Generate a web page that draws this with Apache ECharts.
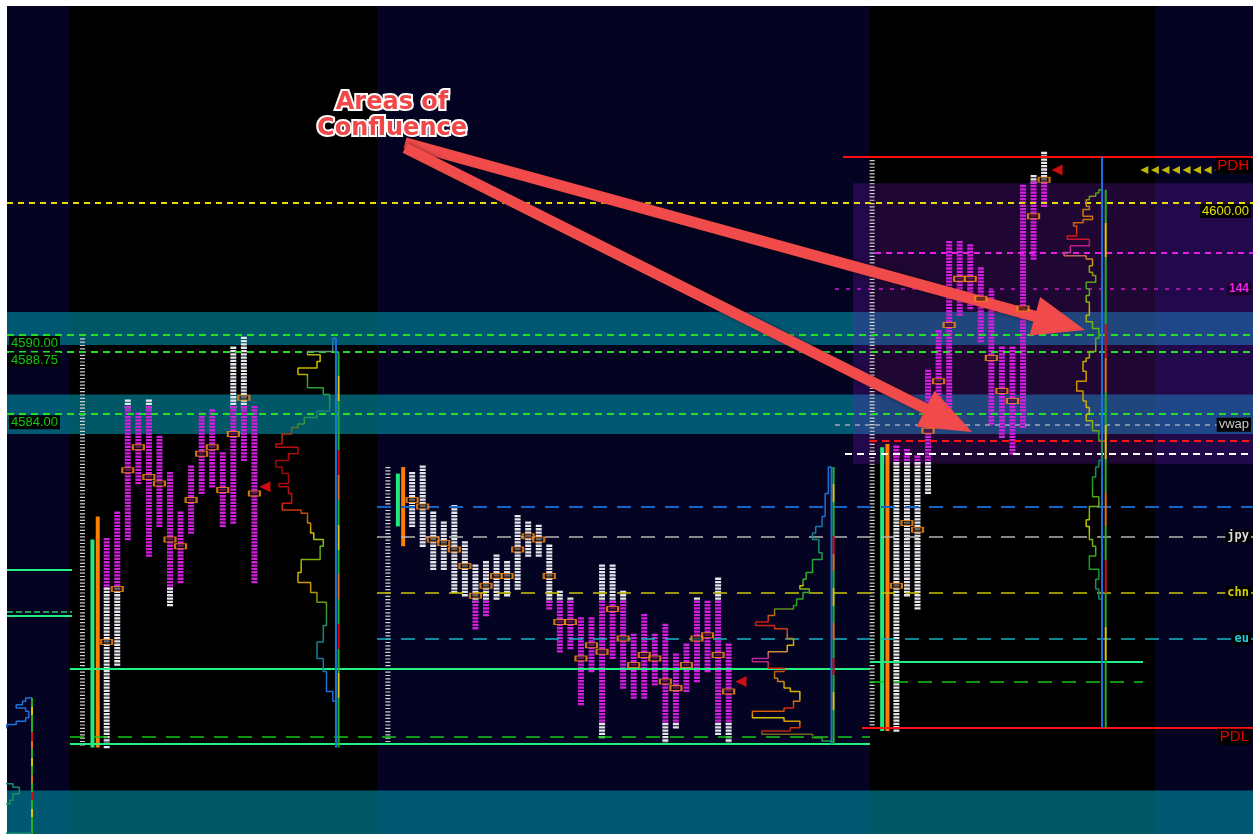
<!DOCTYPE html>
<html>
<head>
<meta charset="utf-8">
<title>Market profile - areas of confluence</title>
<script src="https://cdn.jsdelivr.net/npm/echarts/dist/echarts.min.js"></script>
<style>
  html, body { margin: 0; padding: 0; background: #fff; }
  #chart { width: 1253px; height: 834px; }
</style>
</head>
<body>
<div id="chart"></div>
<script>
// x unit = one 30 min period, y = price
const xMax = 118.1;
const priceMin = 4552.2;
const priceMax = 4614.92;

const sessionStart = [9.45, 38.4, 84.3];
const rthSpans = [[5.97, 35.07], [81.8, 108.82]];
const vaHigh = [4584.5, 4569.75, 4601.5];
const vaLow = [4570.75, 4560.5, 4580.25];

// TPO columns per session (high, low, poc)
const s1High = [4574.5, 4576.5, 4585.0, 4584.0, 4585.0, 4582.25, 4579.5, 4576.5, 4580.0, 4584.0, 4584.25, 4581.0, 4589.0, 4589.75, 4584.5];
const s1Low = [4558.75, 4565.0, 4574.5, 4578.75, 4573.25, 4575.5, 4569.5, 4571.25, 4575.0, 4578.0, 4578.5, 4575.5, 4575.75, 4580.5, 4571.25];
const s1Poc = [4566.75, 4570.75, 4579.75, 4581.5, 4579.25, 4578.75, 4574.5, 4574.0, 4577.5, 4581.0, 4581.5, 4578.25, 4582.5, 4585.25, 4578.0];

const s2High = [4579.5, 4580.0, 4576.5, 4575.75, 4577.0, 4574.25, 4572.5, 4572.75, 4573.25, 4572.75, 4576.25, 4575.75, 4575.5, 4574.0, 4570.5, 4570.0, 4568.5, 4568.5, 4572.5, 4572.5, 4570.5, 4567.25, 4568.75, 4567.25, 4568.0, 4565.75, 4566.5, 4570.0, 4569.75, 4571.5, 4566.5];
const s2Low = [4575.5, 4574.0, 4572.25, 4572.25, 4570.5, 4570.25, 4567.75, 4568.75, 4570.0, 4570.25, 4570.75, 4573.25, 4573.25, 4569.25, 4566.0, 4566.25, 4562.0, 4564.5, 4559.5, 4565.5, 4563.25, 4562.5, 4562.5, 4563.5, 4559.0, 4560.25, 4563.0, 4563.75, 4564.5, 4559.75, 4559.0];
const s2Poc = [4577.5, 4577.0, 4574.5, 4574.25, 4573.75, 4572.5, 4570.25, 4571.0, 4571.75, 4571.75, 4573.75, 4574.75, 4574.5, 4571.75, 4568.25, 4568.25, 4565.5, 4566.5, 4566.0, 4569.25, 4567.0, 4565.0, 4565.75, 4565.5, 4563.75, 4563.25, 4565.0, 4567.0, 4567.25, 4565.75, 4563.0];

const s3High = [4581.5, 4581.25, 4580.75, 4587.25, 4590.25, 4597.0, 4597.0, 4596.75, 4595.0, 4593.25, 4589.0, 4589.0, 4601.25, 4602.0, 4603.75];
const s3Low = [4560.0, 4570.25, 4569.25, 4578.0, 4584.25, 4584.25, 4591.5, 4592.0, 4589.5, 4583.25, 4582.25, 4581.0, 4583.0, 4595.75, 4599.75];
const s3Poc = [4571.0, 4575.75, 4575.25, 4582.75, 4586.5, 4590.75, 4594.25, 4594.25, 4592.75, 4588.25, 4585.75, 4585.0, 4592.0, 4599.0, 4601.75];

// price ladders, initial balance bars
const ladderHigh = [4589.75, 4580.0, 4603.5];
const ladderLow = [4558.75, 4559.0, 4560.0];
const ibGreenHigh = [4574.5, 4579.5, 4581.5];
const ibGreenLow = [4558.75, 4575.5, 4560.0];
const ibOrangeHigh = [4576.25, 4580.0, 4581.75];
const ibOrangeLow = [4558.75, 4574.0, 4560.0];

// profiles: price edges (top to bottom) and counts between them
const profileBase = [31.18, 78.15, 103.79, 2.37];
const profileTop = [4589.75, 4580.0, 4603.5];
const profileBottom = [4558.75, 4559.0, 4560.25];
const s1ProfEdges = [4589.75, 4588.75, 4588.5, 4588.0, 4587.5, 4587.0, 4586.0, 4585.5, 4584.25, 4583.75, 4583.25, 4583.0, 4582.5, 4581.75, 4581.5, 4581.0, 4580.5, 4580.0, 4579.5, 4578.75, 4578.5, 4578.0, 4577.25, 4576.75, 4576.5, 4575.75, 4575.0, 4574.5, 4574.0, 4573.0, 4572.0, 4571.25, 4570.5, 4569.75, 4568.0, 4566.75, 4565.5, 4564.5, 4563.25, 4563.0, 4562.25, 4558.75];
const s1ProfCounts = [1, 9, 5, 6, 12, 9, 4, 2, 6, 10, 12, 14, 17, 19, 12, 15, 19, 17, 15, 18, 15, 14, 17, 11, 9, 8, 7, 4, 5, 11, 12, 8, 6, 3, 4, 6, 4, 3, 3, 1, 0];
const s2ProfEdges = [4580.0, 4578.0, 4577.0, 4576.25, 4575.5, 4575.0, 4574.5, 4573.5, 4573.0, 4572.0, 4571.5, 4571.0, 4570.75, 4570.5, 4570.0, 4569.5, 4569.25, 4568.75, 4568.25, 4568.0, 4567.75, 4567.0, 4566.5, 4566.0, 4565.5, 4565.25, 4564.75, 4564.5, 4564.0, 4563.75, 4563.25, 4563.0, 4562.25, 4561.75, 4561.5, 4561.0, 4560.75, 4560.25, 4560.0, 4559.75, 4559.5, 4559.25, 4559.0];
const s2ProfCounts = [1, 2, 2, 3, 5, 6, 4, 3, 6, 8, 9, 10, 7, 9, 11, 12, 18, 20, 24, 18, 14, 12, 14, 20, 25, 20, 15, 18, 17, 15, 13, 10, 12, 15, 25, 15, 10, 13, 22, 6, 3, 0];
const s3ProfEdges = [4601.0, 4600.75, 4600.5, 4600.25, 4599.75, 4599.5, 4599.0, 4598.75, 4598.5, 4598.25, 4597.5, 4597.25, 4596.75, 4596.25, 4596.0, 4595.75, 4595.25, 4594.75, 4594.5, 4594.0, 4593.5, 4593.0, 4592.5, 4592.0, 4591.5, 4591.0, 4590.5, 4590.25, 4589.75, 4589.0, 4588.75, 4588.25, 4588.0, 4587.25, 4586.5, 4585.75, 4585.0, 4584.5, 4584.0, 4583.5, 4582.75, 4582.0, 4580.5, 4580.0, 4579.25, 4578.25, 4577.75, 4577.0, 4576.0, 4575.5, 4574.5, 4574.0, 4573.25, 4572.25, 4571.5, 4570.75, 4570.0];
const s3ProfCounts = [1, 2, 4, 5, 4, 6, 3, 6, 9, 8, 11, 4, 10, 12, 5, 3, 4, 3, 2, 5, 4, 5, 4, 4, 5, 3, 1, 1, 2, 2, 4, 5, 6, 5, 8, 6, 5, 4, 5, 3, 1, 0, 1, 2, 3, 3, 1, 4, 5, 4, 3, 2, 4, 1, 2, 1];
const compProfEdges = [4562.5, 4562.25, 4562.0, 4561.75, 4561.5, 4561.0, 4560.75, 4560.5, 4560.25, 4556.0, 4555.75, 4555.25, 4554.75, 4554.5, 4552.25];
const compProfCounts = [2, 3, 5, 2, 1, 2, 5, 8, 12, 6, 4, 6, 7, 12];

// horizontal reference levels
const levelNames = ['PDH', '4600.00', 'vah', '144', '4590.00', '4588.75', '4584.00', 'vwap', 'red', 'white', 'blue', 'jpy', 'chn', 'eu', 'ibLow', 'ibLow3', 'ibLow3d', 'lowd', 'low', 'PDL', 'ovn1', 'ovn2', 'ovn3'];
const levelPrices = [4603.5, 4600, 4596.25, 4593.5, 4590, 4588.75, 4584, 4583.2, 4582, 4581, 4577, 4574.75, 4570.5, 4567, 4564.75, 4565.25, 4563.75, 4559.6, 4559, 4560.25, 4572.25, 4569, 4568.75];
const levelFrom = [79.24, 0, 82.27, 78.48, 0, 0, 0, 78.48, 81.8, 79.43, 35.07, 35.07, 35.07, 35.07, 5.97, 81.8, 81.8, 5.97, 5.97, 81.04, 0, 0, 0];
const levelTo = [118.1, 118.1, 118.1, 118.1, 118.1, 118.1, 118.1, 118.1, 118.1, 118.1, 118.1, 118.1, 118.1, 118.1, 81.8, 107.68, 107.68, 81.8, 81.8, 118.1, 6.16, 6.16, 6.16];

const tealBands = [[4589.25, 4591.75], [4582.5, 4585.5], [priceMin, 4555.5]];
const valueBox = [[80.19, 4580.25], [xMax, 4601.5]];

const lastMarks = [[24.45, 4578.5], [69.57, 4563.75], [99.53, 4602.5]];
const futureMarks = [107.8, 108.8, 109.8, 110.8, 111.8, 112.8, 113.8, 114.8, 115.8, 116.8];
const futurePrice = 4602.5;

const arrowFrom = [[37.73, 4604.55], [37.73, 4604.17]];
const arrowTo = [[99.8, 4590.9], [89.27, 4583.53]];

// ---- styles ----
const NAVY = '#040422';
const MAGENTA = '#d41ee0';
const WHITE = '#e6e6ee';
const profUnit = 0.3;

const levelStyle = {
  'PDH': { color: '#ff1010', width: 2, type: 'solid', label: { color: '#e80000', fontSize: 15, pos: 'insideEndBottom' } },
  '4600.00': { color: '#e8dc00', width: 2, type: [6, 5], label: { color: '#e8e000', fontSize: 13, pos: 'insideEndBottom' } },
  'vah': { color: '#e81ee8', width: 2, type: [6, 5] },
  '144': { color: '#c81ed0', width: 1.5, type: [4, 7], label: { color: '#f020f0', fontSize: 12, bold: true, pos: 'insideEnd', bg: '#1a0428' } },
  '4590.00': { color: '#22e022', width: 2, type: [7, 5], label: { color: '#10c810', fontSize: 13, pos: 'insideStartBottom' } },
  '4588.75': { color: '#22e022', width: 2, type: [7, 5], label: { color: '#10c810', fontSize: 13, pos: 'insideStartBottom' } },
  '4584.00': { color: '#22e022', width: 2, type: [7, 5], label: { color: '#10c810', fontSize: 13, pos: 'insideStartBottom' } },
  'vwap': { color: '#8090a8', width: 2, type: [5, 5], label: { color: '#c8c8c8', fontSize: 13, pos: 'insideEnd' } },
  'red': { color: '#ff1414', width: 2, type: [7, 5] },
  'white': { color: '#ffffff', width: 2, type: [7, 5] },
  'blue': { color: '#1464c8', width: 2, type: [14, 10] },
  'jpy': { color: '#b4b4b4', width: 1.5, type: [14, 10], label: { color: '#dcdcdc', fontSize: 12, bold: true, mono: true, pos: 'insideEnd' } },
  'chn': { color: '#c8c400', width: 1.5, type: [14, 10], label: { color: '#d4d000', fontSize: 12, bold: true, mono: true, pos: 'insideEnd' } },
  'eu': { color: '#14b4c4', width: 1.5, type: [14, 10], label: { color: '#20d0dc', fontSize: 12, bold: true, mono: true, pos: 'insideEnd' } },
  'ibLow': { color: '#22f080', width: 2, type: 'solid' },
  'ibLow3': { color: '#22f080', width: 2, type: 'solid' },
  'ibLow3d': { color: '#14c814', width: 1.5, type: [14, 10] },
  'lowd': { color: '#14c814', width: 1.5, type: [14, 10] },
  'low': { color: '#22f080', width: 2, type: 'solid' },
  'PDL': { color: '#ff1010', width: 2, type: 'solid', label: { color: '#e80000', fontSize: 15, pos: 'insideEndBottom' } },
  'ovn1': { color: '#22f080', width: 2, type: 'solid' },
  'ovn2': { color: '#22d860', width: 1.5, type: [6, 3] },
  'ovn3': { color: '#22f080', width: 2, type: 'solid' }
};

const grad = (stops) => new echarts.graphic.LinearGradient(0, 0, 0, 1, stops.map(([o, c]) => ({ offset: o, color: c })));
const profColors = [
  [[0, '#1a6fd8'], [0.03, '#2080c0'], [0.05, '#d0c000'], [0.09, '#c8b000'], [0.11, '#30a020'], [0.15, '#20a040'], [0.18, '#108080'], [0.21, '#30a030'], [0.235, '#a04010'], [0.26, '#c01010'], [0.33, '#900808'], [0.40, '#d01010'], [0.44, '#c06010'], [0.48, '#d8c800'], [0.52, '#40a820'], [0.56, '#c8b800'], [0.61, '#d09000'], [0.65, '#50a020'], [0.72, '#108878'], [0.85, '#1a6fd8'], [1, '#1a6fd8']],
  [[0, '#1a6fd8'], [0.2, '#1a70c8'], [0.27, '#108878'], [0.33, '#20a040'], [0.42, '#30b020'], [0.43, '#d8c800'], [0.45, '#30b020'], [0.5, '#20a020'], [0.53, '#c07010'], [0.56, '#d01010'], [0.6, '#c06010'], [0.65, '#d8c000'], [0.69, '#b020b0'], [0.72, '#d03010'], [0.76, '#c08010'], [0.82, '#d8c800'], [0.86, '#d02010'], [0.9, '#d8c800'], [0.94, '#d01010'], [0.97, '#20b020'], [1, '#1a6fd8']],
  [[0, '#20b020'], [0.04, '#c08010'], [0.08, '#d07010'], [0.12, '#d01010'], [0.15, '#c020c0'], [0.18, '#c8a000'], [0.24, '#40a020'], [0.3, '#c8b800'], [0.36, '#30b020'], [0.42, '#c8b000'], [0.48, '#d09000'], [0.55, '#c8c000'], [0.6, '#40a020'], [0.66, '#108870'], [0.72, '#20a020'], [0.82, '#c8c000'], [0.9, '#20a020'], [1, '#108870']],
  [[0, '#1a6fd8'], [0.4, '#1a6fd8'], [0.6, '#108878'], [0.85, '#20a040'], [1, '#108878']]
];
const stripeColors = ['#20b020', '#d8c800', '#20b020', '#20b020', '#d01010', '#e07010', '#20b020', '#d8c800', '#20b020', '#e07010', '#20b020', '#d01010', '#20b020', '#d8c800', '#20b020', '#20b020'];

function stripes(colors) {
  const out = [];
  colors.forEach((c, i) => {
    out.push({ offset: i / colors.length, color: c }, { offset: (i + 1) / colors.length, color: c });
  });
  return out;
}

// vertical segments [x, low, high]
function segSeries(items, st, z) {
  return {
    type: 'custom', silent: true, z: z, clip: true,
    data: items,
    encode: { x: 0, y: [1, 2] },
    renderItem(params, api) {
      const a = api.coord([api.value(0), api.value(2)]);
      const b = api.coord([api.value(0), api.value(1)]);
      let stroke = st.color;
      if (st.stripes) stroke = new echarts.graphic.LinearGradient(0, a[1], 0, b[1], stripes(st.stripes), true);
      return {
        type: 'line',
        shape: { x1: a[0], y1: a[1] - (st.pad || 0), x2: b[0], y2: b[1] + (st.pad || 0) },
        style: { stroke: stroke, lineWidth: st.width, lineDash: st.dash || null }
      };
    }
  };
}

function tpoSeries(k, hi, lo) {
  const data = hi.map((h, i) => [sessionStart[k] + i, lo[i], h, vaLow[k], vaHigh[k]]);
  return {
    type: 'custom', silent: true, z: 3, clip: true,
    data: data,
    encode: { x: 0, y: [1, 2] },
    renderItem(params, api) {
      const x = api.value(0), l = api.value(1), h = api.value(2), vl = api.value(3), vh = api.value(4);
      const parts = [];
      const add = (a, b, color) => {
        if (b <= a) return;
        const p1 = api.coord([x, b]), p2 = api.coord([x, a]);
        parts.push({
          type: 'line',
          shape: { x1: p1[0], y1: p1[1] - 1.6, x2: p2[0], y2: p2[1] + 1.6 },
          style: { stroke: color, lineWidth: 6, lineDash: [2.3, 1] }
        });
      };
      add(Math.max(l, vh), h, WHITE);
      add(Math.max(l, vl), Math.min(h, vh), MAGENTA);
      add(l, Math.min(h, vl), WHITE);
      return { type: 'group', children: parts };
    }
  };
}

function profilePoints(edges, counts, base) {
  const pts = [[base, edges[0]]];
  counts.forEach((c, i) => {
    const x = base - c * profUnit;
    pts.push([x, edges[i]], [x, edges[i + 1]]);
  });
  pts.push([base, edges[edges.length - 1]]);
  return pts;
}

function profileSeries(edges, counts, base, colors) {
  return {
    type: 'line', silent: true, z: 5, clip: true,
    data: profilePoints(edges, counts, base),
    showSymbol: false, symbol: 'none',
    lineStyle: { width: 1.5, color: grad(colors) }
  };
}

const fmtLabel = (name, st) => {
  if (!st.label) return { show: false };
  const L = st.label;
  return {
    show: true,
    formatter: name,
    position: L.pos,
    distance: [2, 1],
    color: L.color,
    fontSize: L.fontSize,
    lineHeight: L.fontSize,
    fontWeight: L.bold ? 'bold' : 'normal',
    fontFamily: L.mono ? 'DejaVu Sans Mono' : 'Liberation Sans',
    backgroundColor: L.bg || '#000',
    padding: [1, 2, 0, 2]
  };
};

const levelLines = levelNames.map((name, i) => {
  const st = levelStyle[name];
  return [
    {
      coord: [levelFrom[i], levelPrices[i]],
      lineStyle: { color: st.color, width: st.width, type: st.type },
      label: fmtLabel(name, st)
    },
    { coord: [levelTo[i], levelPrices[i]] }
  ];
});

const sessions = [
  { hi: s1High, lo: s1Low, poc: s1Poc },
  { hi: s2High, lo: s2Low, poc: s2Poc },
  { hi: s3High, lo: s3Low, poc: s3Poc }
];

const series = [
  // session shading
  {
    type: 'line', data: [], silent: true, z: 1,
    markArea: {
      silent: true,
      itemStyle: { color: '#000000' },
      data: rthSpans.map(s => [{ xAxis: s[0] }, { xAxis: s[1] }])
    }
  },
  {
    type: 'line', data: [], silent: true, z: 1,
    markArea: {
      silent: true,
      itemStyle: { color: 'rgba(0,140,165,0.62)' },
      data: tealBands.map(b => [{ yAxis: b[0] }, { yAxis: b[1] }])
    }
  },
  {
    type: 'line', data: [], silent: true, z: 1,
    markArea: {
      silent: true,
      itemStyle: { color: 'rgba(120,25,190,0.27)' },
      data: [[{ coord: valueBox[0] }, { coord: valueBox[1] }]]
    }
  },
  // ladders, ib bars
  segSeries(sessionStart.map((s, k) => [s - 2.3, ladderLow[k], ladderHigh[k]]), { color: '#d2d2d2', width: 5, dash: [1.2, 2.1] }, 2),
  segSeries(sessionStart.map((s, k) => [s - 1.35, ibGreenLow[k], ibGreenHigh[k]]), { color: '#20e87a', width: 4 }, 3),
  segSeries(sessionStart.map((s, k) => [s - 0.85, ibOrangeLow[k], ibOrangeHigh[k]]), { color: '#ff8000', width: 4 }, 3),
  // tpo columns
  tpoSeries(0, s1High, s1Low),
  tpoSeries(1, s2High, s2Low),
  tpoSeries(2, s3High, s3Low),
  // future projection markers (under the level labels)
  {
    type: 'scatter', silent: true, z: 3,
    symbol: 'triangle', symbolRotate: 90, symbolSize: [8, 8],
    itemStyle: { color: '#f0e400' },
    data: futureMarks.map(x => [x, futurePrice])
  },
  // reference levels
  {
    type: 'line', data: [], silent: true, z: 4,
    markLine: { silent: true, symbol: 'none', animation: false, data: levelLines }
  },
  // profile end lines
  segSeries(profileBase.slice(0, 3).map((b, k) => [b, profileBottom[k], profileTop[k]]), { color: '#1a70e0', width: 2 }, 5),
  segSeries([[profileBase[0] + 0.25, s1ProfEdges[s1ProfEdges.length - 1], s1ProfEdges[1]],
             [profileBase[1] + 0.2, s2ProfEdges[s2ProfEdges.length - 1], s2ProfEdges[0]],
             [profileBase[2] + 0.35, profileBottom[2], s3ProfEdges[0]],
             [profileBase[3], priceMin, compProfEdges[0]]],
            { stripes: stripeColors, width: 2 }, 5),
  profileSeries(s1ProfEdges, s1ProfCounts, profileBase[0], profColors[0]),
  profileSeries(s2ProfEdges, s2ProfCounts, profileBase[1], profColors[1]),
  profileSeries(s3ProfEdges, s3ProfCounts, profileBase[2], profColors[2]),
  profileSeries(compProfEdges, compProfCounts, profileBase[3], profColors[3]),
  // poc markers
  {
    type: 'scatter', silent: true, z: 6,
    symbol: 'rect', symbolSize: [11, 5],
    itemStyle: { color: 'rgba(20,10,0,0.7)', borderColor: '#ff8c1a', borderWidth: 1.5 },
    data: sessions.flatMap((s, k) => s.poc.map((p, i) => [sessionStart[k] + i, p]))
  },
  // last price markers
  {
    type: 'scatter', silent: true, z: 6,
    symbol: 'triangle', symbolRotate: 90, symbolSize: [11, 11],
    itemStyle: { color: '#ff1010' },
    data: lastMarks
  },
  // annotation arrows
  {
    type: 'line', data: [], silent: true, z: 8,
    markLine: {
      silent: true, animation: false,
      symbol: ['none', 'triangle'], symbolSize: [40, 52],
      label: { show: false },
      lineStyle: { color: '#f04a4a', width: 11, type: 'solid', opacity: 1, shadowBlur: 4, shadowColor: 'rgba(0,0,0,0.5)' },
      itemStyle: { color: '#f04a4a' },
      data: arrowFrom.map((f, i) => [{ coord: f }, { coord: arrowTo[i] }])
    }
  }
];

const chart = echarts.init(document.getElementById('chart'));
chart.setOption({
  animation: false,
  textStyle: { fontFamily: 'Liberation Sans' },
  grid: { left: 7, top: 6, right: 0, bottom: 0, show: true, backgroundColor: NAVY, borderWidth: 0 },
  xAxis: { type: 'value', min: 0, max: xMax, show: false, splitLine: { show: false } },
  yAxis: { type: 'value', min: priceMin, max: priceMax, show: false, splitLine: { show: false } },
  series: series,
  graphic: [{
    type: 'text', z: 100, silent: true,
    style: {
      text: 'Areas of\nConfluence',
      x: 392, y: 116,
      align: 'center', verticalAlign: 'middle',
      font: 'bold 24px "DejaVu Sans"',
      lineHeight: 26,
      fill: '#f04848',
      stroke: '#ffffff',
      lineWidth: 4
    }
  }]
});
</script>
</body>
</html>
